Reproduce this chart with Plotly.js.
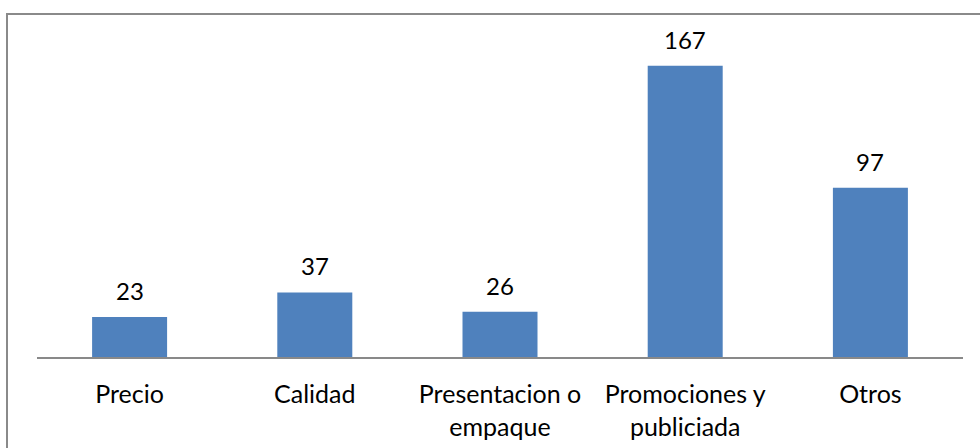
<!DOCTYPE html>
<html>
<head>
<meta charset="utf-8">
<script src="https://cdn.plot.ly/plotly-3.0.1.min.js"></script>
<style>
  html, body { margin: 0; padding: 0; background: #fff; overflow: hidden; }
  #wrap { position: relative; width: 980px; height: 448px; overflow: hidden; }
  #chart { position: absolute; left: 0; top: 0; width: 980px; height: 448px; }
  #frame {
    position: absolute; left: 6px; top: 13px; width: 1200px; height: 1200px;
    border: 2px solid #8a8a8a; pointer-events: none; box-sizing: border-box;
  }
</style>
</head>
<body>
<div id="wrap">
  <div id="chart"></div>
  <div id="frame"></div>
</div>
<script>
// Motivos de compra: número de respuestas por categoría
const categories = ["Precio", "Calidad", "Presentacion o<br>empaque", "Promociones y<br>publiciada", "Otros"];
const counts = [23, 37, 26, 167, 97];

const barColor = "#4F81BD";
const valueFont = { family: "Lato, 'Open Sans', sans-serif", size: 24, color: "#000000" };
const tickFont = { family: "Lato, 'Open Sans', sans-serif", size: 25, color: "#000000" };

const trace = {
  type: "bar",
  x: categories,
  y: counts,
  marker: { color: barColor, line: { width: 0 } },
  hoverinfo: "x+y"
};

// Value labels above each bar
const valueLabels = categories.map((c, i) => ({
  x: c,
  y: counts[i],
  xref: "x",
  yref: "y",
  text: String(counts[i]),
  showarrow: false,
  yanchor: "bottom",
  yshift: 10,
  font: valueFont
}));

const layout = {
  width: 980,
  height: 448,
  margin: { l: 37, r: 17, t: 43, b: 91 },
  paper_bgcolor: "rgba(0,0,0,0)",
  plot_bgcolor: "rgba(0,0,0,0)",
  showlegend: false,
  bargap: 0.595,
  font: valueFont,
  xaxis: {
    type: "category",
    showline: true,
    linecolor: "#898989",
    linewidth: 2,
    ticks: "",
    showgrid: false,
    zeroline: false,
    tickfont: tickFont,
    ticklabelstandoff: 14,
    fixedrange: true
  },
  yaxis: {
    range: [0, 180],
    visible: false,
    showgrid: false,
    zeroline: false,
    fixedrange: true
  },
  annotations: valueLabels
};

Plotly.newPlot("chart", [trace], layout, { displayModeBar: false, staticPlot: true });
</script>
</body>
</html>
